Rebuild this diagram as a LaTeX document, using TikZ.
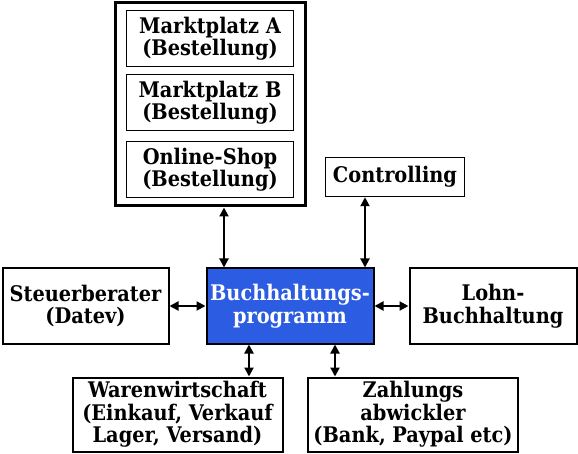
\documentclass[tikz,border=0pt]{standalone}
\usepackage{fontspec}
\setmainfont{DejaVu Serif Condensed}
\usepackage{xcolor}
\usetikzlibrary{arrows.meta}
\definecolor{progblue}{RGB}{43,92,226}

\begin{document}
\begin{tikzpicture}[x=1pt,y=-1pt]
				\useasboundingbox (0,0) rectangle (578,454);
				\begin{scope}[every node/.style={draw,line width=2pt,align=center,inner sep=0pt,
						font=\fontsize{21.5}{22.5}\selectfont\bfseries}]
					\node[line width=3pt,minimum width=190pt,minimum height=203pt] (M) at (210,104.5) {};
					\node[line width=1.5pt,minimum width=167pt,minimum height=56pt] (A) at (210,38.5) {Marktplatz A\\(Bestellung)};
					\node[line width=1.5pt,minimum width=167pt,minimum height=56pt] (B) at (210,102.5) {Marktplatz B\\(Bestellung)};
					\node[line width=1.5pt,minimum width=167pt,minimum height=56pt] (S) at (210,169.5) {Online-Shop\\(Bestellung)};
					\node[line width=1.5pt,minimum width=139pt,minimum height=39pt] (C) at (395,177) {Controlling};
					\node[minimum width=166pt,minimum height=75pt] (D) at (85.5,306) {Steuerberater\\(Datev)};
					\node[fill=progblue,text=white,minimum width=167pt,minimum height=75pt] (P) at (290,306) {Buchhaltungs-\\programm};
					\node[minimum width=167pt,minimum height=75pt] (L) at (493,306) {Lohn-\\Buchhaltung};
					\node[minimum width=210pt,minimum height=74pt] (W) at (177.5,414.5) {Warenwirtschaft\\(Einkauf, Verkauf\\Lager, Versand)};
					\node[minimum width=210pt,minimum height=74pt] (Z) at (413,414.5) {Zahlungs\\abwickler\\(Bank, Paypal etc)};
				\end{scope}
				
				\begin{scope}[>={Triangle[length=9pt,width=9pt]},line width=2pt]
					\draw [<->] ([xshift=-66pt]P.north) -- ([xshift=-66pt]P.north |- M.south);
					\draw [<->] ([xshift=-30pt]C.south) -- ([xshift=-30pt]C.south |- P.north);
					\draw [<->] (D.east) -- (P.west);
					\draw [<->] (P.east) -- (L.west);
					\draw [<->] ([xshift=-41pt]P.south) -- ([xshift=-41pt]P.south |- W.north);
					\draw [<->] ([xshift=45pt]P.south) -- ([xshift=45pt]P.south |- Z.north);
				\end{scope}
			\end{tikzpicture}
\end{document}
